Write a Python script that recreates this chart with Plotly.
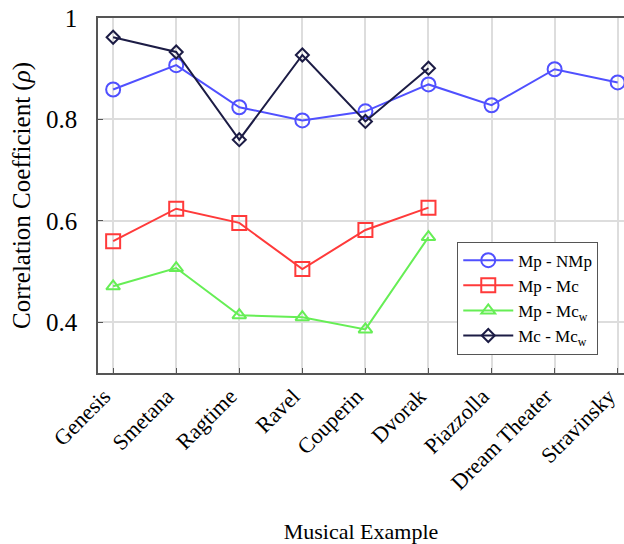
import plotly.graph_objects as go

categories = ["Genesis", "Smetana", "Ragtime", "Ravel", "Couperin", "Dvorak",
              "Piazzolla", "Dream Theater", "Stravinsky"]
mp_nmp = [0.859, 0.907, 0.824, 0.798, 0.816, 0.869, 0.828, 0.899, 0.873]
mp_mc = [0.560, 0.624, 0.596, 0.505, 0.582, 0.626]
mp_mcw = [0.471, 0.507, 0.414, 0.410, 0.386, 0.568]
mc_mcw = [0.962, 0.933, 0.760, 0.927, 0.796, 0.901]
y_ticks = [0.4, 0.6, 0.8, 1.0]
y_tick_labels = ["0.4", "0.6", "0.8", "1"]

series = [
    ("Mp - NMp", mp_nmp, "#5050ff", "circle-open", 14),
    ("Mp - Mc", mp_mc, "#ff3a3a", "square-open", 14),
    ("Mp - Mc<sub>w</sub>", mp_mcw, "#66ee55", "triangle-up-open", 12),
    ("Mc - Mc<sub>w</sub>", mc_mcw, "#1c1c45", "diamond-open", 10),
]

fig = go.Figure()
for name, vals, color, sym, size in series:
    fig.add_trace(go.Scatter(
        x=list(range(len(vals))), y=vals, name=name, mode="lines+markers",
        line=dict(color=color, width=2),
        marker=dict(symbol=sym, size=size, color=color, line=dict(width=2, color=color)),
    ))

font = "Liberation Serif, Times New Roman, serif"
fig.update_layout(
    width=624, height=544,
    margin=dict(l=98, r=0, t=18, b=171, autoexpand=False),
    paper_bgcolor="white", plot_bgcolor="white",
    font=dict(family=font, color="black"),
    showlegend=True,
    legend=dict(x=0.683, y=0.37, xanchor="left", yanchor="top",
                bordercolor="#555555", borderwidth=1, bgcolor="white",
                font=dict(size=17, family=font), tracegroupgap=0,
                itemwidth=50),
    xaxis=dict(
        range=[-0.24, 8.1], tickmode="array", tickvals=list(range(len(categories))),
        ticktext=categories, tickangle=-45, tickfont=dict(size=22),
        ticklabeloverflow="allow", ticklabelshift=-9,
        showgrid=True, gridcolor="#dddddd", gridwidth=1.5,
        showline=True, linecolor="#555555", linewidth=1.5, mirror=True,
        ticks="inside", ticklen=5, tickcolor="#555555", zeroline=False,
        automargin=False,
        title=dict(text="Musical Example", font=dict(size=22), standoff=38),
    ),
    yaxis=dict(
        range=[0.3, 1.0], tickmode="array", tickvals=y_ticks, ticktext=y_tick_labels,
        tickfont=dict(size=25),
        showgrid=True, gridcolor="#dddddd", gridwidth=1.5,
        showline=True, linecolor="#555555", linewidth=1.5, mirror=True,
        ticks="inside", ticklen=5, tickcolor="#555555", zeroline=False,
        ticklabelstandoff=14, automargin=False,
        title=dict(text="Correlation Coefficient (<i>ρ</i>)", font=dict(size=25), standoff=8),
    ),
)

fig.write_html("out.html", config={"displayModeBar": False},
               post_script="document.body.style.margin='0';document.body.style.overflow='hidden';")
